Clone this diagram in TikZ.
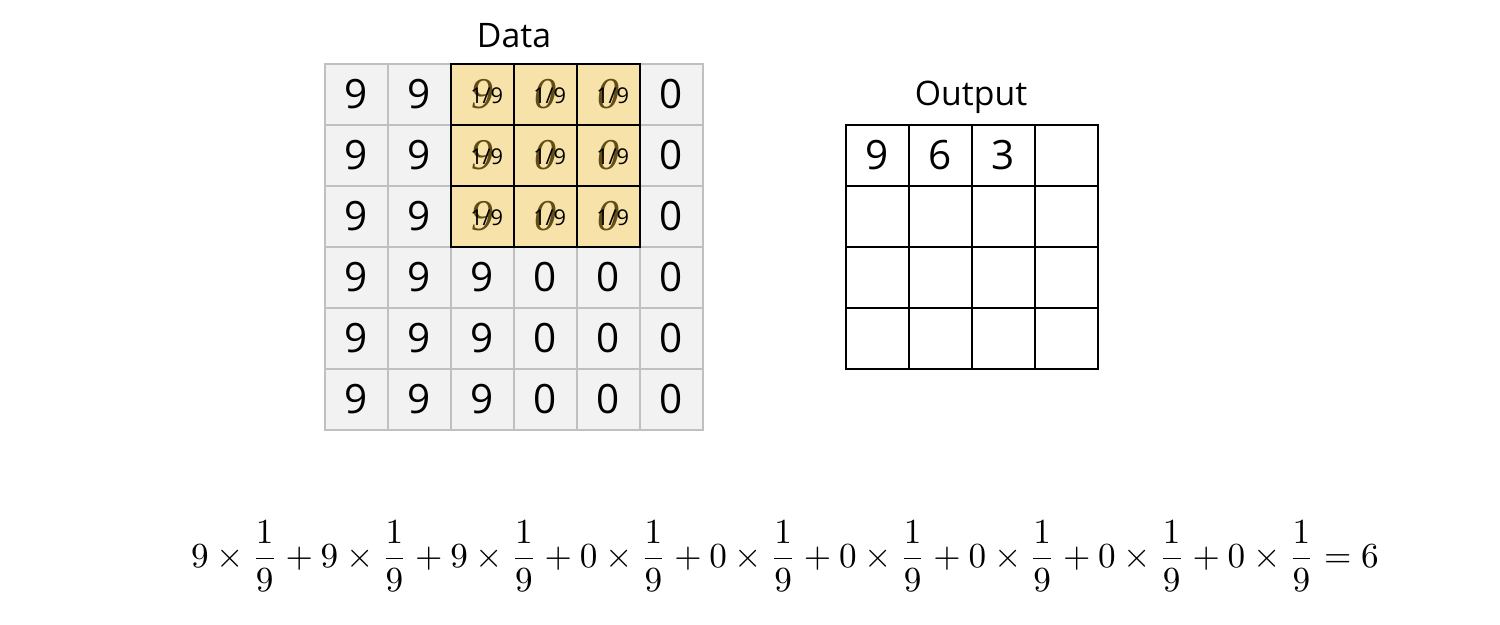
\documentclass[tikz,border=0pt]{standalone}
\usepackage{fontspec}
\setmainfont{Open Sans}
\newfontfamily\kernelfont{Liberation Serif}
\usetikzlibrary{positioning}
\definecolor{cellgray}{RGB}{242,242,242}
\definecolor{cellline}{RGB}{192,192,192}
\definecolor{kernelfill}{RGB}{247,227,170}
\definecolor{kerneldigit}{RGB}{98,78,20}
\tikzset{datacell/.style={rectangle,draw=cellline,fill=cellgray,line width=0.6pt,
inner sep=0pt,minimum width=0.63cm,minimum height=0.61cm,font=\fontsize{11.5}{12}\selectfont}}
\tikzset{kernelcell/.style={rectangle,draw=black,fill=kernelfill,line width=0.7pt,
inner sep=0pt,minimum width=0.63cm,minimum height=0.61cm,text=kerneldigit,
font=\fontsize{12.5}{13}\kernelfont\itshape}}
\tikzset{weight/.style={inner sep=0pt,font=\fontsize{6.2}{7}\selectfont}}
\tikzset{outcell/.style={rectangle,draw=black,fill=white,line width=0.6pt,
inner sep=0pt,minimum width=0.63cm,minimum height=0.61cm,font=\fontsize{11.5}{12}\selectfont}}
\tikzset{gridlabel/.style={inner sep=0pt,font=\fontsize{9.6}{12}\selectfont}}

\begin{document}
\begin{tikzpicture}[x=0.01cm,y=-0.01cm]
    \useasboundingbox (0,0) rectangle (1500,625);

    % input data
    \node[gridlabel] (datatitle) at (514,36) {Data};
    \foreach \r in {1,...,6}
        \foreach \c/\v in {1/9,2/9,3/9,4/0,5/0,6/0}
            \node[datacell] (data-\r-\c) at ({325+63*(\c-0.5)},{64+61*(\r-0.5)}) {\v};

    % filter window
    \foreach \r in {1,2,3}
        \foreach \c/\v in {3/9,4/0,5/0} {
            \node[kernelcell] (kernel-\r-\c) at (data-\r-\c) {\v};
            \node[weight] (weight-\r-\c) at ([xshift=1.2pt,yshift=-0.4pt]kernel-\r-\c) {1/9};
        }

    % output
    \node[gridlabel] (outtitle) at (971,97) {Output};
    \foreach \r in {1,...,4}
        \foreach \c in {1,...,4}
            \node[outcell] (out-\r-\c) at ({846+63*(\c-0.5)},{125+61*(\r-0.5)}) {};
    \node[outcell,draw=none,fill=none] (val-1) at (out-1-1) {9};
    \node[outcell,draw=none,fill=none] (val-2) at (out-1-2) {6};
    \node[outcell,draw=none,fill=none] (val-3) at (out-1-3) {3};

    % sum
    \node[font=\fontsize{10.2}{12}\selectfont] (formula) at (785,556)
        {$\displaystyle 9\times\frac{1}{9}+9\times\frac{1}{9}+9\times\frac{1}{9}
        +0\times\frac{1}{9}+0\times\frac{1}{9}+0\times\frac{1}{9}
        +0\times\frac{1}{9}+0\times\frac{1}{9}+0\times\frac{1}{9}=6$};

\end{tikzpicture}
\end{document}
